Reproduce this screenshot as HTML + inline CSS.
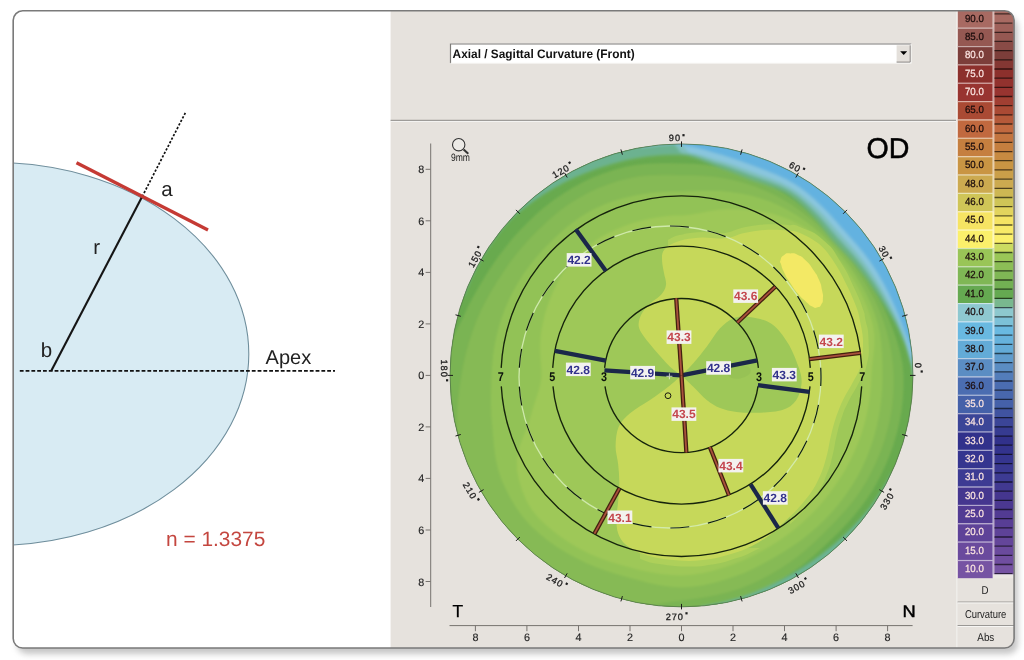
<!DOCTYPE html>
<html><head><meta charset="utf-8"><title>Axial / Sagittal Curvature</title>
<style>
html,body{margin:0;padding:0;background:#fff;}
body{width:1024px;height:660px;overflow:hidden;font-family:"Liberation Sans",sans-serif;}
svg{display:block;position:absolute;left:0;top:0;opacity:0.999;}
text{font-family:"Liberation Sans",sans-serif;text-rendering:geometricPrecision;}
.b{font-weight:bold;}
</style></head><body>
<svg width="1024" height="660" viewBox="0 0 1024 660">
<defs>
<clipPath id="frame"><rect x="13.2" y="10.8" width="1000.9" height="637.2" rx="9.5" ry="9.5"/></clipPath>
<clipPath id="mapclip"><circle cx="681.5" cy="375.4" r="231.5"/></clipPath>
<filter id="sh" x="-5%" y="-5%" width="112%" height="112%"><feGaussianBlur stdDeviation="3.2"/></filter>
<filter id="bl2"><feGaussianBlur stdDeviation="1.2"/></filter>
<filter id="bl3"><feGaussianBlur stdDeviation="1.5"/></filter>
</defs>

<rect x="17" y="17" width="1001" height="637" rx="10" fill="#8c8c8c" opacity="0.5" filter="url(#sh)"/>
<rect x="13.2" y="10.8" width="1000.9" height="637.2" rx="9.5" fill="#fff"/>
<g clip-path="url(#frame)">
<ellipse cx="-5.8" cy="354" rx="254.6" ry="191.5" fill="#d8ebf3" stroke="#6f8e9c" stroke-width="1.1"/>
<line x1="19.8" y1="370.9" x2="335" y2="370.9" stroke="#111" stroke-width="1.7" stroke-dasharray="3.8 2"/>
<line x1="51.3" y1="370.7" x2="142.2" y2="196.6" stroke="#151515" stroke-width="2.1"/>
<line x1="142.2" y1="196.6" x2="185.3" y2="112.9" stroke="#111" stroke-width="1.7" stroke-dasharray="2.3 1.7"/>
<line x1="76.5" y1="162.7" x2="208" y2="230.1" stroke="#c53a34" stroke-width="3.4"/>
<text x="161.3" y="196" font-size="20.5" fill="#222">a</text>
<text x="93.3" y="254.4" font-size="20.5" fill="#222">r</text>
<text x="40.8" y="357.3" font-size="20.5" fill="#222">b</text>
<text x="265.6" y="364" font-size="20" fill="#222">Apex</text>
<text x="166" y="546.3" font-size="20.9" fill="#c4463f">n = 1.3375</text>
<rect x="390.6" y="10" width="640" height="640" fill="#e6e2dd"/>
<rect x="390.6" y="119.8" width="565.5" height="1.1" fill="#8c8a87"/>
<rect x="390.6" y="120.9" width="565.5" height="1" fill="#f6f5f3"/>
<rect x="450" y="43.5" width="461.2" height="19.8" fill="#fff"/>
<path d="M450.5,63.3V44H911.2" fill="none" stroke="#7d7b78" stroke-width="1.2"/>
<path d="M450.5,63.3H911.2V44" fill="none" stroke="#f4f3f1" stroke-width="1"/>
<rect x="896.6" y="45.3" width="13.6" height="16.8" fill="#e4e0db"/>
<path d="M896.6,62.1H910.2V45.3" fill="none" stroke="#8a8784" stroke-width="1"/>
<path d="M900.2,51.2h7l-3.5,3.8z" fill="#000"/>
<text class="b" x="452.6" y="57.7" font-size="12.3" fill="#111" textLength="182" lengthAdjust="spacingAndGlyphs">Axial / Sagittal Curvature (Front)</text>
<g clip-path="url(#mapclip)">
<circle cx="681.5" cy="375.4" r="232.5" fill="#79b451"/>
<circle cx="681.5" cy="375.4" r="233.5" fill="#68aa4e"/>
<g filter="url(#bl2)">
<path d="M903.5,375.4L902.5,363.8L900.2,352.4L897,341.3L893.3,330.4L889.2,319.8L884.7,309.4L879.7,299.3L874.3,289.6L868.5,280.1L862.5,270.9L856.1,262L849.3,253.5L842.1,245.3L834.7,237.4L827.2,229.7L819.5,222.2L811.6,214.7L803.5,207.5L795,200.7L786,194.4L776.7,188.6L767.1,183.1L757.2,178.2L746.9,174L736.4,170.6L725.6,168L714.7,166L703.7,164.6L692.6,163.7L681.5,163.4L670.4,163.3L659.2,163.3L648,163.7L636.7,164.7L625.6,166.8L614.7,169.7L603.9,173.2L593.3,177.3L583,182.1L573,187.5L563.3,193.4L554,199.8L544.9,206.8L536.3,214.1L528.1,222L520.2,230.1L512.5,238.6L505.3,247.4L498.3,256.5L491.8,265.9L485.6,275.6L479.6,285.5L473.8,295.7L468.3,306.1L463.2,316.9L457.8,327.9L452.1,339.1L446.8,350.7L443,362.9L441.5,375.4L441.8,388L442.8,400.5L444.5,412.9L446.7,425.3L449.7,437.5L453.2,449.6L457.4,461.4L462.2,473L467.7,484.4L473.7,495.4L480.2,506.1L487.3,516.5L495,526.4L503.1,536L511.8,545.1L520.9,553.8L530.5,561.9L540.4,569.6L550.8,576.7L561.5,583.2L572.5,589.2L583.9,594.7L595.5,599.5L607.3,603.7L619.4,607.2L631.6,610.2L644,612.4L656.4,614.1L668.9,615.1L681.5,615.4L694,614.7L706.4,612.6L718.6,609.6L730.5,605.8L742.1,601.4L753.3,596.5L764.2,590.8L774.6,584.5L784.7,577.9L794.5,571.1L804,564L813.1,556.5L821.8,548.6L830.2,540.6L838.5,532.4L846.6,524L854.3,515.3L861.6,506.3L868.4,496.8L874.6,486.9L880.2,476.6L885.2,466.1L889.7,455.3L893.6,444.3L896.9,433.1L899.6,421.8L901.6,410.3L902.9,398.7L903.5,387Z" fill="#7ab452"/>
<path d="M893.5,375.4L892.8,364.3L891.4,353.3L889.3,342.5L886.6,331.8L883.4,321.3L879.5,311.1L875.1,301.1L870.1,291.4L864.7,282L859,272.9L853,264L846.5,255.5L839.6,247.4L832.4,239.5L825,231.9L817.3,224.5L809.3,217.6L800.8,211.2L792.1,205.1L783,199.6L773.6,194.6L764,190.2L754.1,186.3L744,183L733.8,180.3L723.4,178.2L713,176.8L702.5,175.9L692,175.5L681.5,175.4L671,175.3L660.5,175.2L649.8,175.5L639.2,176.5L628.7,178.4L618.4,181.1L608.2,184.4L598.2,188.3L588.5,192.8L579,197.9L569.9,203.6L561.2,209.8L552.9,216.6L544.9,223.7L537.3,231.2L529.8,238.8L522.6,246.8L515.8,255L509.2,263.5L503.1,272.4L497.3,281.5L491.6,290.8L486.2,300.4L481.2,310.3L476.7,320.5L472.8,331L469.3,341.8L466.2,352.8L463.6,364L461.5,375.4L459.7,387L458.2,398.9L457.2,410.9L456.9,423.1L457.4,435.4L458.5,447.8L460.2,460.4L462.7,472.8L466.5,485L471.9,496.4L478.5,507.2L485.7,517.6L493.4,527.7L501.7,537.3L510.4,546.5L519.6,555.2L529.2,563.5L539.3,571.2L549.7,578.4L560.5,585L571.7,590.8L583.4,595.7L595.4,599.7L607.6,602.9L619.9,605.3L632.4,606.3L645,605.7L657.5,604L669.6,602L681.5,600.4L693.2,599L704.8,597.3L716.3,595.1L727.6,592.3L738.7,588.9L749.5,584.7L760,579.9L770.2,574.5L780,568.7L789.5,562.5L798.6,555.7L807.3,548.5L815.5,540.9L823.5,533.2L831.4,525.3L839.1,517.3L846.5,509L853.5,500.4L860,491.4L866,481.9L871.3,472.1L876.1,462L880.4,451.7L884.1,441.2L887.2,430.5L889.8,419.7L891.7,408.7L892.9,397.6L893.5,386.5Z" fill="#86ba54"/>
<path d="M882.5,375.4L882.4,364.9L882.1,354.3L881.3,343.8L879.9,333.2L877.6,322.9L874.4,312.7L870.5,302.8L866,293.2L861,283.9L855.6,274.9L849.7,266.1L843.5,257.7L836.8,249.6L829.7,241.9L822.2,234.7L814.3,227.9L806.1,221.5L797.5,215.7L788.7,210.4L779.5,205.7L770.1,201.6L760.4,198.3L750.5,195.6L740.6,193.5L730.7,191.9L720.7,190.9L710.8,190.7L700.9,190.9L691.2,191.2L681.5,191.4L671.9,191.5L662.2,192L652.6,192.8L643,194L633.4,195.7L623.8,197.9L614.4,200.7L605.2,204L596.2,208L587.5,212.6L579.2,217.8L571.2,223.6L563.6,229.8L556.3,236.4L549.3,243.2L542.5,250.2L536,257.6L529.8,265.2L524,273.1L518.7,281.4L513.8,290L509.4,298.8L505.4,307.8L501.9,317.1L498.9,326.5L496.5,336.1L494.5,345.8L493,355.6L492.1,365.5L491.5,375.4L491.2,385.4L491,395.4L491,405.6L491.3,415.8L492.2,426.1L493.1,436.6L494.1,447.3L495.6,458.2L497.9,469L501.4,479.4L505.9,489.5L511,499.3L516.8,508.8L523.4,517.7L530.9,526L539.1,533.6L547.8,540.5L556.9,546.9L566.3,552.7L576,558.1L585.9,563L596.1,567.3L606.4,571L616.9,574.3L627.4,577.3L638,580.1L648.6,582.9L659.5,585.2L670.4,586.8L681.5,587.4L692.6,586.8L703.6,585.2L714.3,582.8L724.9,579.8L735.3,576.3L745.5,572.4L755.4,567.8L764.9,562.8L774.3,557.5L783.5,552.1L792.5,546.3L801.2,540.2L809.6,533.6L817.7,526.6L825.3,519.2L832.6,511.5L839.5,503.3L845.9,494.8L851.8,486L857.3,476.9L862.2,467.5L866.6,457.8L870.4,447.9L873.7,437.9L876.5,427.6L878.7,417.3L880.4,406.9L881.6,396.4L882.3,385.9Z" fill="#92c256"/>
<path d="M871.5,375.4L872.2,365.4L873.4,355.2L874.4,344.9L874.4,334.4L872.8,324.2L869.8,314.2L866.1,304.5L862,295.1L857.3,285.8L852.1,276.9L846.5,268.3L840.4,259.9L833.9,252L826.8,244.5L819.4,237.5L811.3,231.2L802.6,225.9L793.4,221.3L784,217.5L774.5,214.3L764.8,211.9L755,210.3L745.2,209.5L735.5,209.2L726,209.3L716.7,210L707.5,211.5L698.5,213.3L689.9,214.8L681.5,215.4L673.1,215.6L664.8,216.3L656.5,217.4L648.2,218.9L640.1,220.9L632.1,223.2L624.2,226L616.4,229.2L608.9,232.8L601.5,236.8L594.4,241.3L587.7,246.3L581.4,251.7L575.4,257.5L569.8,263.7L564.7,270.2L560.2,277.2L556.4,284.5L552.9,291.9L549.9,299.4L547.1,306.9L544.8,314.6L543,322.2L541.5,329.9L540.5,337.6L540.1,345.3L540.2,353L540.7,360.6L541.3,368.1L541.5,375.4L540.7,382.8L538.7,390.4L536.1,398.4L533.3,406.9L530.8,415.8L527.7,425.4L523.4,436.1L519.3,447.6L516.8,459.3L517,470.4L519.2,480.8L522.3,491.1L526.5,500.9L531.9,510.1L538.7,518.2L546.4,525.5L554.5,532.2L563,538.5L571.9,544.2L581,549.5L590.4,554.2L600.1,558.2L610,561.7L620,564.8L630,567.6L640.1,570.2L650.3,572.3L660.6,574L671,575L681.5,575.4L692,574.8L702.3,573.3L712.5,570.9L722.4,568L732.2,564.7L741.8,561L751.1,556.7L760.1,552L768.9,547L777.5,541.7L785.8,536L793.8,530L801.5,523.6L808.8,516.8L815.8,509.7L822.4,502.3L828.7,494.6L834.5,486.6L840,478.4L845.2,469.9L849.9,461.2L854.2,452.3L858,443.2L861.4,433.9L864.3,424.4L866.7,414.8L868.6,405L870.1,395.2L871,385.3Z" fill="#9ec858"/>
</g>
<clipPath id="hc"><path d="M668,140H930V620H640V548H790V300H668Z"/></clipPath>
<path d="M681.5,375.4C677.1,379.2 678.8,378.5 668.3,386.7C657.8,394.9 662.8,391.1 650,400C637.2,408.9 640.5,404.3 630,413.3C619.5,422.3 623.4,416 618.6,427C613.8,438 615.7,433.9 615.6,446.4C615.5,458.9 617,452.4 618.2,464.5C619.4,476.6 619.3,470.6 619.3,482.7C619.3,494.8 619.2,488.8 618.2,500.9C617.2,513 616.4,508.2 616.4,519.1C616.4,530 615.2,525.1 618.2,533.6C621.2,542.1 617.6,537.8 625.5,544.5C633.4,551.2 629.1,548.7 641.8,553.6C654.5,558.5 647.8,556.7 663.6,559.1C679.4,561.5 673.3,560.9 689.1,560.9C704.9,560.9 696.4,561.5 710.9,559.1C725.4,556.7 719.4,557.8 732.7,553.6C746,549.4 738.8,552.4 750.9,546.4C763,540.4 758.2,543.4 769.1,535.5C780,527.6 773.9,531.8 783.6,522.7C793.3,513.6 788.5,519.1 798.2,508.2C807.9,497.3 804.8,502.1 812.7,490C820.6,477.9 816.9,483.9 821.8,471.8C826.7,459.7 824.2,465.7 827.3,453.6C830.4,441.5 828.1,447.6 831,435.5C833.9,423.4 832,429.1 836,417.3C840,405.5 837.3,411.8 843,400C848.7,388.2 847,393.7 853,382C859,370.3 857.7,379 861,365C864.3,351 863.3,354.7 863,340C862.7,325.3 862,331.3 860,320.9C858,310.5 861,319.9 857,308.8C853,297.7 855,302.3 847.9,287.6C840.8,272.9 844.9,278.9 835.8,264.8C826.7,250.7 832.5,255.8 820.6,245.2C808.7,234.6 811.1,237.9 800,233C788.9,228.1 796.1,231.6 787.2,230.5C778.3,229.4 783.3,229.6 773.4,229.7C763.5,229.8 768.1,229.4 757.6,230.7C747.1,232 751.1,231.3 741.9,233.6C732.7,235.9 737.9,235.9 730,237.6C722.1,239.3 727.4,238.6 718.2,238.6C709,238.6 713.7,237.3 702.5,237.6C691.3,237.9 695.2,237.3 684.7,239.6C674.2,241.9 678.1,240.6 670.9,244.5C663.7,248.4 666,245.8 663.1,251.4C660.2,257 661.8,254 662.1,261.2C662.4,268.4 662.7,265.2 664,273.1C665.3,281 667,277.7 666,284.9C665,292.1 666,288.8 661.1,294.7C656.2,300.6 657.4,296.7 651.2,302.6C645,308.5 646.6,305.4 642.4,312.5C638.2,319.6 638.8,317.1 638.6,324C638.4,330.9 636.8,325.2 641.7,333.3C646.6,341.4 643.9,337.2 653.3,348.3C662.7,359.4 660.6,357.7 670,366.7C679.4,375.7 677.7,372.5 681.5,375.4C685.3,378.3 685.9,371.6 681.5,375.4Z" fill="none" stroke="#aed05a" stroke-width="11" stroke-linejoin="round" clip-path="url(#hc)"/>
<path d="M681.5,375.4C679.3,377.3 673.5,382.6 668.3,386.7C663,390.8 656.4,395.6 650,400C643.6,404.4 635.2,408.8 630,413.3C624.8,417.8 621,421.5 618.6,427C616.2,432.5 615.7,440.1 615.6,446.4C615.5,452.6 617.6,458.4 618.2,464.5C618.8,470.6 619.3,476.6 619.3,482.7C619.3,488.8 618.7,494.8 618.2,500.9C617.7,507 616.4,513.6 616.4,519.1C616.4,524.6 616.7,529.4 618.2,533.6C619.7,537.8 621.6,541.2 625.5,544.5C629.4,547.8 635.4,551.2 641.8,553.6C648.1,556 655.7,557.9 663.6,559.1C671.5,560.3 681.2,560.9 689.1,560.9C697,560.9 703.6,560.3 710.9,559.1C718.2,557.9 726,555.7 732.7,553.6C739.4,551.5 744.8,549.4 750.9,546.4C757,543.4 763.6,539.5 769.1,535.5C774.6,531.5 778.8,527.2 783.6,522.7C788.5,518.2 793.4,513.6 798.2,508.2C803.1,502.8 808.8,496.1 812.7,490C816.6,483.9 819.4,477.9 821.8,471.8C824.2,465.7 825.8,459.7 827.3,453.6C828.8,447.6 829.5,441.6 831,435.5C832.5,429.4 834,423.2 836,417.3C838,411.4 840.2,405.9 843,400C845.8,394.1 850,387.8 853,382C856,376.2 859.3,372 861,365C862.7,358 863.2,347.4 863,340C862.8,332.6 861,326.1 860,320.9C859,315.7 859,314.4 857,308.8C855,303.2 851.4,294.9 847.9,287.6C844.4,280.3 840.3,271.9 835.8,264.8C831.2,257.7 826.6,250.5 820.6,245.2C814.6,239.9 805.6,235.4 800,233C794.4,230.6 791.6,231.1 787.2,230.5C782.8,229.9 778.3,229.7 773.4,229.7C768.5,229.7 762.9,230 757.6,230.7C752.4,231.3 746.5,232.4 741.9,233.6C737.3,234.8 734,236.8 730,237.6C726,238.4 722.8,238.6 718.2,238.6C713.6,238.6 708.1,237.4 702.5,237.6C696.9,237.8 690,238.4 684.7,239.6C679.4,240.8 674.5,242.5 670.9,244.5C667.3,246.5 664.6,248.6 663.1,251.4C661.6,254.2 662,257.6 662.1,261.2C662.2,264.8 663.4,269.2 664,273.1C664.6,277.1 666.5,281.3 666,284.9C665.5,288.5 663.6,291.8 661.1,294.7C658.6,297.6 654.3,299.6 651.2,302.6C648.1,305.6 644.5,308.9 642.4,312.5C640.3,316.1 638.7,320.5 638.6,324C638.5,327.5 639.2,329.2 641.7,333.3C644.2,337.4 648.6,342.7 653.3,348.3C658,353.9 665.3,362.2 670,366.7C674.7,371.2 679.6,373.9 681.5,375.4Z" fill="#c6d85a"/>
<path d="M681.5,375.4C683.5,373.4 689.1,368.1 693.3,363.3C697.5,358.5 702.2,352.5 706.7,346.7C711.2,340.9 715.6,333 720,328.3C724.4,323.6 728.2,320.3 733.1,318.4C738,316.5 743.1,316.1 749.5,317C755.9,317.9 765,319.5 771.4,323.8C777.8,328.1 783.2,335.7 787.8,343C792.4,350.3 796.5,360.8 798.8,367.6C801.1,374.4 802,378.5 801.5,384C801,389.5 799.2,396.1 796,400.4C792.8,404.7 788.8,407.9 782.4,410C776,412.1 765.3,412.4 757.7,412.7C750.1,413 743,412.8 736.7,412C730.4,411.2 725,410 720,408C715,406 711.2,403.6 706.7,400C702.2,396.4 697.5,390.8 693.3,386.7C689.1,382.6 683.5,377.3 681.5,375.4Z" fill="#9ec858"/>
<ellipse cx="739" cy="372" rx="12" ry="6.5" fill="#97c255" transform="rotate(-8 739 372)"/>
<path d="M780.5,260.3C781.5,257 780.9,257.3 784.2,255C787.5,252.7 785.7,253.5 790.3,253.5C794.9,253.5 792.8,252.7 797.9,255C803,257.3 800.5,255.5 805.5,260.3C810.5,265.1 808.5,262.8 813,269.4C817.5,276 816.1,272.9 819.1,280C822.1,287.1 820.8,284.5 822.1,290.6C823.4,296.7 823.1,293.7 822.9,298.2C822.7,302.7 823.2,301.2 821.4,304.2C819.6,307.2 820.6,306.5 817.6,307.3C814.6,308.1 816.3,308.5 812.3,306.5C808.3,304.5 810.3,305.5 805.5,301.2C800.7,296.9 803,299.7 797.9,293.6C792.8,287.5 794.9,290.1 790.3,283C785.7,275.9 787.2,278.5 784.2,272.4C781.2,266.3 782.4,268.8 781.2,264.8C780,260.8 779.5,263.6 780.5,260.3Z" fill="#f3e965"/>
<g filter="url(#bl3)">
<path d="M913,375.4L912.7,371.3L911.9,367.3L910.8,363.3L909.5,359.4L908.3,355.4L907,351.5L905.7,347.7L904.3,343.9L902.7,340.1L901.2,336.4L899.5,332.8L897.8,329.1L896,325.6L894.1,322L892.2,318.6L890.1,315.2L888.1,311.8L886,308.5L884,305.2L881.9,301.9L879.9,298.7L877.9,295.5L875.8,292.4L873.6,289.2L871.5,286.2L869.3,283.1L867.2,280.1L865,277.1L862.7,274.2L860.5,271.3L858.2,268.4L855.9,265.6L853.5,262.8L851,260.1L848.6,257.5L846.1,254.8L843.6,252.2L841.1,249.6L838.7,247L836.2,244.4L833.8,241.8L831.4,239.2L829.1,236.4L826.9,233.7L824.7,230.8L822.5,227.9L820.2,225.1L817.9,222.3L815.5,219.5L813.1,216.8L810.5,214.2L808,211.6L805.4,209L802.8,206.4L800,203.9L797.3,201.5L794.4,199.2L791.4,197L788.3,194.9L785.2,193.1L781.9,191.4L778.5,189.9L775.1,188.5L771.7,187.2L768.2,186L764.7,184.8L761.2,183.7L757.7,182.6L754.3,181.4L750.9,180.2L747.5,178.9L744.1,177.5L740.7,176.2L737.3,174.8L733.8,173.4L730.4,172.1L726.9,170.7L723.4,169.4L719.9,168.2L716.4,167L712.8,165.6L709.3,164.1L705.7,162.6L702,161L698.4,159.6L694.6,158.2L690.9,157L687,156.1L683.2,155.6L679.3,155.3L675.5,155.2L671.6,155.2L667.7,155.3L663.8,155.4L660,155.7L656.1,156L652.2,156.4L648.4,156.8L644.5,157.3L640.7,157.9L636.8,158.5L633,159.2L629.2,160L625.4,160.8L621.6,161.7L617.8,162.7L614,163.7L610.3,164.8L606.6,165.9L602.8,167.1L599.1,168.3L595.4,169.6L591.7,170.9L588,172.3L584.3,173.7L580.7,175.2L577,176.7L573.4,178.4L569.8,180L566.3,181.8L562.7,183.6L559.2,185.4L555.7,187.3L552.3,189.3L548.8,191.3L545.4,193.4L542,195.6L538.7,197.8L535.4,200.1L532.1,202.4L528.8,204.8L525.6,207.2L522.3,209.6L519.1,212.2L516,214.8L513,217.5L510,220.3L507.2,223.2L504.5,226.2L501.9,229.3L499.4,232.5L496.9,235.7L494.5,239L492.1,242.3L489.8,245.7L487.5,249L485.3,252.5L483.2,255.9L481.1,259.4L479.1,263L477.2,266.5L475.3,270.1L473.5,273.8L471.7,277.4L470.1,281.1L468.4,284.9L466.9,288.6L465.4,292.4L464,296.2L461.1,295.2L462.6,291.3L464.1,287.5L465.7,283.7L467.3,279.9L469,276.2L470.8,272.5L472.6,268.8L474.5,265.1L476.5,261.5L478.5,257.9L480.6,254.4L482.8,250.9L485,247.4L487.3,244L489.6,240.6L492,237.2L494.5,233.9L497,230.7L499.6,227.4L502.2,224.3L504.9,221.1L507.6,218.1L510.4,215L513.2,212.1L516.1,209.1L519.1,206.3L522.1,203.4L525.1,200.7L528.2,197.9L531.4,195.3L534.5,192.7L537.8,190.1L541.1,187.6L544.4,185.2L547.7,182.8L551.1,180.5L554.6,178.2L558.1,176L561.6,173.9L565.1,171.8L568.7,169.8L572.4,167.8L576,166L579.7,164.1L583.4,162.4L587.2,160.7L591,159.1L594.8,157.5L598.6,156L602.5,154.6L606.4,153.3L610.3,152L614.2,150.8L618.2,149.6L622.2,148.5L626.2,147.5L630.2,146.6L634.2,145.7L638.2,144.9L642.3,144.2L646.4,143.5L650.4,143L654.5,142.5L658.6,142L662.7,141.7L666.8,141.4L670.9,141.1L675.1,141L679.2,140.9L683.3,140.9L687.4,141L691.5,141.1L695.6,141.3L699.8,141.6L703.9,142L708,142.4L712,142.9L716.1,143.5L720.2,144.1L724.2,144.8L728.3,145.6L732.3,146.5L736.3,147.4L740.3,148.4L744.3,149.5L748.3,150.6L752.2,151.8L756.1,153.1L760,154.4L763.9,155.8L767.7,157.3L771.5,158.9L775.3,160.5L779.1,162.2L782.8,163.9L786.5,165.7L790.2,167.6L793.8,169.5L797.4,171.5L801,173.6L804.5,175.7L808,177.9L811.4,180.2L814.8,182.5L818.2,184.9L821.5,187.3L824.8,189.8L828.1,192.3L831.2,194.9L834.4,197.6L837.5,200.3L840.5,203.1L843.5,205.9L846.5,208.8L849.4,211.7L852.2,214.7L855,217.7L857.8,220.8L860.5,223.9L863.1,227L865.7,230.3L868.2,233.5L870.7,236.8L873.1,240.2L875.4,243.5L877.7,247L879.9,250.4L882.1,253.9L884.2,257.5L886.2,261.1L888.2,264.7L890.1,268.3L892,272L893.8,275.7L895.5,279.5L897.1,283.2L898.7,287L900.2,290.9L901.7,294.7L903.1,298.6L904.4,302.5L905.6,306.4L906.8,310.4L907.9,314.3L908.9,318.3L909.9,322.3L910.8,326.3L911.6,330.4L912.4,334.4L913.1,338.5L913.7,342.6L914.2,346.6L914.7,350.7L915.1,354.8L915.4,358.9L915.7,363.1L915.9,367.2L916,371.3L916,375.4Z" fill="#6eb27c"/>
<path d="M913,375.4L912.7,371.3L912,367.3L911,363.3L909.9,359.3L908.7,355.4L907.6,351.5L906.4,347.6L905.1,343.8L903.7,340L902.2,336.2L900.7,332.5L899.1,328.9L897.4,325.2L895.6,321.7L893.8,318.2L891.9,314.7L889.9,311.3L888,307.9L886,304.5L884.1,301.2L882.1,297.9L880.1,294.6L878.1,291.4L876,288.2L873.9,285L871.8,281.9L869.7,278.8L867.5,275.7L865.3,272.7L863.1,269.7L860.9,266.8L858.6,263.9L856.2,261.1L853.8,258.3L851.3,255.5L848.9,252.8L846.4,250.1L843.9,247.4L841.4,244.7L839,242.1L836.5,239.4L834.1,236.7L831.7,234L829.4,231.2L827.1,228.3L824.8,225.5L822.5,222.6L820.1,219.8L817.7,217.1L815.1,214.4L812.5,211.8L809.9,209.2L807.2,206.6L804.5,204L801.7,201.5L798.8,199.1L795.9,196.8L792.9,194.6L789.7,192.6L786.5,190.7L783.2,189L779.8,187.4L776.4,186L772.9,184.6L769.4,183.4L765.9,182.1L762.4,181L758.8,179.8L755.4,178.6L751.9,177.3L748.4,176L745,174.7L741.5,173.3L738,172L734.6,170.7L731.1,169.3L727.5,168.1L724,166.8L720.4,165.6L716.8,164.5L713.2,163.2L709.6,161.8L705.9,160.4L702.2,159L698.5,157.7L694.7,156.5L690.9,155.4L687.1,154.6L683.2,154.1L679.3,153.9L675.4,153.8L671.5,153.8L667.6,153.9L663.7,154.1L659.8,154.3L655.9,154.7L652.1,155L648.2,155.5L644.3,156L640.4,156.6L636.6,157.3L632.7,158L628.9,158.8L625.1,159.6L621.3,160.6L617.5,161.5L613.7,162.6L609.9,163.7L606.2,164.9L602.4,166.1L598.7,167.3L595,168.6L591.3,170L587.6,171.4L583.9,172.9L580.3,174.4L576.6,176L573,177.6L569.4,179.3L565.9,181.1L562.4,182.9L558.8,184.8L555.4,186.8L551.9,188.8L548.5,190.9L545.1,193L541.7,195.2L538.4,197.4L535.1,199.8L531.8,202.1L528.6,204.5L525.4,207L522.2,209.5L519,212L515.9,214.7L512.9,217.4L510,220.2L507.2,223.2L504.5,226.2L501.9,229.3L499.4,232.5L496.9,235.7L494.5,239L492.1,242.3L489.8,245.7L487.5,249L485.3,252.5L483.2,255.9L481.1,259.4L479.1,263L477.2,266.5L475.3,270.1L473.5,273.8L471.7,277.4L470.1,281.1L468.4,284.9L466.9,288.6L465.4,292.4L464,296.2L461.1,295.2L462.6,291.3L464.1,287.5L465.7,283.7L467.3,279.9L469,276.2L470.8,272.5L472.6,268.8L474.5,265.1L476.5,261.5L478.5,257.9L480.6,254.4L482.8,250.9L485,247.4L487.3,244L489.6,240.6L492,237.2L494.5,233.9L497,230.7L499.6,227.4L502.2,224.3L504.9,221.1L507.6,218.1L510.4,215L513.2,212.1L516.1,209.1L519.1,206.3L522.1,203.4L525.1,200.7L528.2,197.9L531.4,195.3L534.5,192.7L537.8,190.1L541.1,187.6L544.4,185.2L547.7,182.8L551.1,180.5L554.6,178.2L558.1,176L561.6,173.9L565.1,171.8L568.7,169.8L572.4,167.8L576,166L579.7,164.1L583.4,162.4L587.2,160.7L591,159.1L594.8,157.5L598.6,156L602.5,154.6L606.4,153.3L610.3,152L614.2,150.8L618.2,149.6L622.2,148.5L626.2,147.5L630.2,146.6L634.2,145.7L638.2,144.9L642.3,144.2L646.4,143.5L650.4,143L654.5,142.5L658.6,142L662.7,141.7L666.8,141.4L670.9,141.1L675.1,141L679.2,140.9L683.3,140.9L687.4,141L691.5,141.1L695.6,141.3L699.8,141.6L703.9,142L708,142.4L712,142.9L716.1,143.5L720.2,144.1L724.2,144.8L728.3,145.6L732.3,146.5L736.3,147.4L740.3,148.4L744.3,149.5L748.3,150.6L752.2,151.8L756.1,153.1L760,154.4L763.9,155.8L767.7,157.3L771.5,158.9L775.3,160.5L779.1,162.2L782.8,163.9L786.5,165.7L790.2,167.6L793.8,169.5L797.4,171.5L801,173.6L804.5,175.7L808,177.9L811.4,180.2L814.8,182.5L818.2,184.9L821.5,187.3L824.8,189.8L828.1,192.3L831.2,194.9L834.4,197.6L837.5,200.3L840.5,203.1L843.5,205.9L846.5,208.8L849.4,211.7L852.2,214.7L855,217.7L857.8,220.8L860.5,223.9L863.1,227L865.7,230.3L868.2,233.5L870.7,236.8L873.1,240.2L875.4,243.5L877.7,247L879.9,250.4L882.1,253.9L884.2,257.5L886.2,261.1L888.2,264.7L890.1,268.3L892,272L893.8,275.7L895.5,279.5L897.1,283.2L898.7,287L900.2,290.9L901.7,294.7L903.1,298.6L904.4,302.5L905.6,306.4L906.8,310.4L907.9,314.3L908.9,318.3L909.9,322.3L910.8,326.3L911.6,330.4L912.4,334.4L913.1,338.5L913.7,342.6L914.2,346.6L914.7,350.7L915.1,354.8L915.4,358.9L915.7,363.1L915.9,367.2L916,371.3L916,375.4Z" fill="#6cb290"/>
<path d="M913,375.4L913,372.9L912.9,370.3L912.9,367.8L912.5,365.3L911.5,362.8L910.4,360.3L909.7,357.8L909,355.4L908.4,352.9L907.7,350.5L907,348L906.2,345.6L905.4,343.2L904.6,340.8L903.7,338.5L902.8,336.1L901.9,333.8L901,331.5L900,329.1L899,326.9L898,324.6L897,322.3L895.9,320.1L894.8,317.9L893.6,315.7L892.5,313.5L891.3,311.3L890.1,309.2L888.9,307L887.8,304.9L886.6,302.8L885.4,300.7L884.2,298.6L883,296.5L881.8,294.4L880.5,292.4L879.3,290.3L878,288.3L876.8,286.3L875.5,284.3L874.2,282.3L872.9,280.3L871.5,278.4L870.2,276.4L868.9,274.5L867.5,272.6L866.2,270.7L864.8,268.8L863.4,266.9L862,265L860.5,263.2L859.1,261.4L857.6,259.6L856.1,257.8L854.6,256L853.1,254.3L851.5,252.6L850,250.8L848.4,249.1L846.9,247.4L845.3,245.7L843.8,244L842.2,242.3L840.7,240.6L839.2,238.9L837.6,237.2L836.1,235.5L834.6,233.8L833.1,232.1L831.6,230.3L830.1,228.6L828.7,226.8L827.2,225L825.7,223.2L824.2,221.4L822.7,219.7L821.2,217.9L819.6,216.2L818,214.5L816.4,212.9L814.7,211.2L813.1,209.6L811.4,208L809.7,206.3L808,204.7L806.2,203.2L804.5,201.6L802.7,200.1L800.9,198.6L799.1,197.1L797.2,195.6L795.3,194.3L793.4,192.9L791.4,191.6L789.4,190.4L787.4,189.2L785.3,188.1L783.2,187.1L781,186.1L778.9,185.1L776.7,184.2L774.5,183.4L772.3,182.5L770.1,181.7L767.9,180.9L765.7,180.1L763.5,179.4L761.3,178.6L759.1,177.8L756.9,177.1L754.7,176.3L752.5,175.5L750.3,174.7L748.2,173.9L746,173.1L743.8,172.2L741.6,171.4L739.4,170.6L737.2,169.8L735,168.9L732.8,168.1L730.6,167.3L728.3,166.5L726.1,165.8L723.9,165.1L721.6,164.3L719.3,163.6L717,162.9L714.8,162.2L712.5,161.4L710.2,160.6L707.9,159.8L705.6,158.9L703.3,158.1L700.9,157.3L698.6,156.5L696.2,155.8L693.8,155.1L691.4,154.5L689,154L686.6,153.7L684.2,153.5L681.7,153.1L679.3,151.1L676.7,147.1L674.1,144.2L671.6,144.1L669.1,144.2L666.5,144.4L664,144.6L661.5,144.8L658.9,145L656.4,145.3L653.9,145.6L651.3,145.9L648.8,146.2L646.3,146.6L643.8,147L641.3,147.4L640.8,144.5L643.3,144L645.9,143.6L648.4,143.2L651,142.9L653.5,142.6L656.1,142.3L658.6,142L661.2,141.8L663.8,141.6L666.3,141.4L668.9,141.2L671.5,141.1L674,141L676.6,141L679.2,140.9L681.8,140.9L684.3,140.9L686.9,141L689.5,141L692.1,141.1L694.6,141.3L697.2,141.4L699.8,141.6L702.3,141.8L704.9,142.1L707.4,142.3L710,142.6L712.6,143L715.1,143.3L717.6,143.7L720.2,144.1L722.7,144.6L725.3,145L727.8,145.5L730.3,146L732.8,146.6L735.3,147.2L737.8,147.8L740.3,148.4L742.8,149.1L745.3,149.7L747.8,150.5L750.2,151.2L752.7,152L755.1,152.8L757.6,153.6L760,154.4L762.4,155.3L764.8,156.2L767.2,157.1L769.6,158.1L772,159.1L774.4,160.1L776.7,161.1L779.1,162.2L781.4,163.3L783.7,164.4L786.1,165.5L788.4,166.7L790.6,167.8L792.9,169.1L795.2,170.3L797.4,171.5L799.6,172.8L801.9,174.1L804.1,175.5L806.2,176.8L808.4,178.2L810.6,179.6L812.7,181L814.8,182.5L817,184L819,185.5L821.1,187L823.2,188.5L825.2,190.1L827.2,191.7L829.3,193.3L831.2,194.9L833.2,196.6L835.2,198.3L837.1,200L839,201.7L840.9,203.4L842.8,205.2L844.7,207L846.5,208.8L848.3,210.6L850.1,212.4L851.9,214.3L853.7,216.2L855.4,218.1L857.1,220L858.8,221.9L860.5,223.9L862.1,225.9L863.8,227.8L865.4,229.9L867,231.9L868.5,233.9L870.1,236L871.6,238.1L873.1,240.2L874.5,242.3L876,244.4L877.4,246.5L878.8,248.7L880.2,250.9L881.6,253.1L882.9,255.3L884.2,257.5L885.5,259.7L886.7,262L888,264.2L889.2,266.5L890.4,268.8L891.5,271.1L892.6,273.4L893.8,275.7L894.8,278L895.9,280.4L896.9,282.8L897.9,285.1L898.9,287.5L899.9,289.9L900.8,292.3L901.7,294.7L902.6,297.1L903.4,299.6L904.2,302L905,304.5L905.8,306.9L906.5,309.4L907.2,311.9L907.9,314.3L908.6,316.8L909.2,319.3L909.8,321.8L910.4,324.3L910.9,326.8L911.4,329.4L911.9,331.9L912.4,334.4L912.8,337L913.2,339.5L913.6,342.1L914,344.6L914.3,347.2L914.6,349.7L914.9,352.3L915.1,354.8L915.3,357.4L915.5,360L915.6,362.5L915.8,365.1L915.9,367.7L915.9,370.3L916,372.8L916,375.4Z" fill="#80c0bc"/>
<path d="M913,375.4L913,372.9L912.9,370.3L912.9,367.8L912.5,365.2L911.7,362.8L910.8,360.3L910.1,357.8L909.6,355.3L909,352.9L908.4,350.4L907.7,348L907,345.5L906.3,343.1L905.6,340.7L904.8,338.3L904,335.9L903.2,333.5L902.3,331.2L901.4,328.9L900.5,326.5L899.6,324.2L898.6,321.9L897.6,319.6L896.6,317.4L895.5,315.1L894.4,312.9L893.4,310.7L892.2,308.5L891.1,306.3L890,304.1L888.9,302L887.8,299.8L886.6,297.7L885.5,295.5L884.3,293.4L883.1,291.3L881.9,289.2L880.7,287.1L879.5,285.1L878.2,283L877,281L875.7,278.9L874.4,276.9L873.1,274.9L871.8,272.9L870.5,271L869.1,269L867.8,267L866.4,265.1L865,263.2L863.6,261.3L862.1,259.4L860.6,257.6L859.2,255.7L857.7,253.9L856.2,252.1L854.6,250.3L853.1,248.5L851.6,246.8L850,245L848.5,243.2L846.9,241.5L845.3,239.8L843.8,238L842.2,236.3L840.7,234.5L839.1,232.8L837.5,231.1L836,229.3L834.5,227.5L833,225.8L831.4,224L829.9,222.2L828.4,220.4L826.8,218.6L825.2,216.9L823.6,215.1L822,213.4L820.3,211.8L818.7,210.1L817,208.5L815.2,206.8L813.5,205.2L811.7,203.6L810,202L808.2,200.5L806.4,198.9L804.5,197.4L802.7,195.9L800.8,194.4L798.9,193L796.9,191.6L795,190.3L793,189L790.9,187.8L788.9,186.6L786.8,185.5L784.6,184.4L782.5,183.3L780.3,182.3L778.1,181.4L775.9,180.5L773.7,179.6L771.5,178.7L769.3,177.9L767,177.1L764.8,176.3L762.6,175.5L760.3,174.7L758.1,173.9L755.9,173.1L753.7,172.3L751.4,171.5L749.2,170.7L747,169.8L744.8,169L742.5,168.2L740.3,167.4L738.1,166.6L735.8,165.8L733.6,165L731.3,164.3L729,163.5L726.7,162.8L724.4,162.1L722.1,161.5L719.8,160.8L717.5,160.1L715.2,159.4L712.9,158.7L710.5,158L708.2,157.3L705.9,156.5L703.5,155.8L701.1,155.1L698.8,154.4L696.4,153.8L693.9,153.3L691.5,152.9L689.1,152.2L686.7,150.1L684.3,147L681.8,144.9L679.2,144.4L676.7,144.1L674.1,144L671.6,144.1L669.1,144.2L666.5,144.4L664,144.6L661.5,144.8L658.9,145L656.4,145.3L653.9,145.6L651.3,145.9L648.8,146.2L646.3,146.6L643.8,147L641.3,147.4L640.8,144.5L643.3,144L645.9,143.6L648.4,143.2L651,142.9L653.5,142.6L656.1,142.3L658.6,142L661.2,141.8L663.8,141.6L666.3,141.4L668.9,141.2L671.5,141.1L674,141L676.6,141L679.2,140.9L681.8,140.9L684.3,140.9L686.9,141L689.5,141L692.1,141.1L694.6,141.3L697.2,141.4L699.8,141.6L702.3,141.8L704.9,142.1L707.4,142.3L710,142.6L712.6,143L715.1,143.3L717.6,143.7L720.2,144.1L722.7,144.6L725.3,145L727.8,145.5L730.3,146L732.8,146.6L735.3,147.2L737.8,147.8L740.3,148.4L742.8,149.1L745.3,149.7L747.8,150.5L750.2,151.2L752.7,152L755.1,152.8L757.6,153.6L760,154.4L762.4,155.3L764.8,156.2L767.2,157.1L769.6,158.1L772,159.1L774.4,160.1L776.7,161.1L779.1,162.2L781.4,163.3L783.7,164.4L786.1,165.5L788.4,166.7L790.6,167.8L792.9,169.1L795.2,170.3L797.4,171.5L799.6,172.8L801.9,174.1L804.1,175.5L806.2,176.8L808.4,178.2L810.6,179.6L812.7,181L814.8,182.5L817,184L819,185.5L821.1,187L823.2,188.5L825.2,190.1L827.2,191.7L829.3,193.3L831.2,194.9L833.2,196.6L835.2,198.3L837.1,200L839,201.7L840.9,203.4L842.8,205.2L844.7,207L846.5,208.8L848.3,210.6L850.1,212.4L851.9,214.3L853.7,216.2L855.4,218.1L857.1,220L858.8,221.9L860.5,223.9L862.1,225.9L863.8,227.8L865.4,229.9L867,231.9L868.5,233.9L870.1,236L871.6,238.1L873.1,240.2L874.5,242.3L876,244.4L877.4,246.5L878.8,248.7L880.2,250.9L881.6,253.1L882.9,255.3L884.2,257.5L885.5,259.7L886.7,262L888,264.2L889.2,266.5L890.4,268.8L891.5,271.1L892.6,273.4L893.8,275.7L894.8,278L895.9,280.4L896.9,282.8L897.9,285.1L898.9,287.5L899.9,289.9L900.8,292.3L901.7,294.7L902.6,297.1L903.4,299.6L904.2,302L905,304.5L905.8,306.9L906.5,309.4L907.2,311.9L907.9,314.3L908.6,316.8L909.2,319.3L909.8,321.8L910.4,324.3L910.9,326.8L911.4,329.4L911.9,331.9L912.4,334.4L912.8,337L913.2,339.5L913.6,342.1L914,344.6L914.3,347.2L914.6,349.7L914.9,352.3L915.1,354.8L915.3,357.4L915.5,360L915.6,362.5L915.8,365.1L915.9,367.7L915.9,370.3L916,372.8L916,375.4Z" fill="#8ac6de"/>
<path d="M912.4,359.3L912.3,357L912.1,354.7L911.8,352.5L911.3,350.3L910.8,348.1L910.2,345.9L909.5,343.7L908.7,341.5L907.9,339.4L907,337.3L906.2,335.2L905.3,333L904.5,330.9L903.7,328.8L902.9,326.7L902.1,324.6L901.3,322.6L900.5,320.5L899.7,318.4L898.9,316.4L898,314.3L897.2,312.3L896.3,310.2L895.4,308.2L894.5,306.2L893.6,304.2L892.7,302.2L891.8,300.2L890.9,298.2L889.9,296.3L889,294.3L888,292.3L887,290.4L886,288.4L885,286.5L884,284.6L883,282.7L881.9,280.8L880.9,278.9L879.8,277L878.7,275.1L877.6,273.3L876.5,271.4L875.3,269.6L874.1,267.8L873,266L871.8,264.2L870.5,262.4L869.3,260.6L868,258.9L866.7,257.2L865.4,255.5L864.1,253.8L862.8,252.1L861.4,250.4L860,248.8L858.7,247.1L857.3,245.5L855.9,243.9L854.5,242.3L853.1,240.7L851.7,239.1L850.2,237.5L848.8,235.9L847.4,234.3L846,232.7L844.5,231.1L843.1,229.6L841.7,228L840.3,226.4L838.9,224.8L837.5,223.2L836.1,221.6L834.7,220L833.2,218.4L831.8,216.8L830.4,215.2L828.9,213.6L827.4,212.1L825.9,210.5L824.4,209L822.9,207.5L821.3,206L819.8,204.5L818.2,203L816.6,201.6L815.1,200.1L813.5,198.6L811.9,197.2L810.2,195.7L808.6,194.3L806.9,192.9L805.2,191.6L803.5,190.2L801.8,188.9L800,187.6L798.2,186.4L796.4,185.2L794.6,184L792.7,182.9L790.8,181.9L788.9,180.8L787,179.8L785.1,178.8L783.1,177.9L781.2,177L779.2,176.1L777.2,175.2L775.2,174.3L773.2,173.5L771.2,172.7L769.2,171.9L767.2,171.1L765.1,170.3L763.1,169.5L761.1,168.8L759.1,168L757,167.3L755,166.6L753,165.8L750.9,165.1L748.9,164.3L746.9,163.6L744.8,162.8L742.8,162.1L740.8,161.3L738.7,160.6L736.7,159.9L734.6,159.1L732.5,158.4L730.4,157.7L728.4,157.1L726.3,156.4L724.2,155.8L722.1,155.1L719.9,154.5L717.8,153.9L715.7,153.3L713.6,152.7L711.4,152L709.3,151.4L707.2,150.8L705,150.1L702.8,149.5L700.7,148.9L698.5,148.3L696.3,147.8L694.1,147.3L691.9,146.8L689.6,146.4L687.4,145.9L685.2,145.5L682.9,145L680.7,144.6L678.4,144.3L676.2,144.1L673.9,144L671.6,144.1L669.4,144.2L669.2,141.2L671.5,141.1L673.8,141L676.1,141L678.4,140.9L680.7,140.9L683,140.9L685.3,140.9L687.5,141L689.8,141L692.1,141.1L694.4,141.3L696.7,141.4L699,141.6L701.3,141.7L703.6,141.9L705.8,142.2L708.1,142.4L710.4,142.7L712.7,143L714.9,143.3L717.2,143.6L719.5,144L721.7,144.4L724,144.8L726.2,145.2L728.5,145.7L730.7,146.1L732.9,146.6L735.2,147.1L737.4,147.7L739.6,148.2L741.8,148.8L744.1,149.4L746.3,150L748.5,150.7L750.7,151.3L752.8,152L755,152.7L757.2,153.5L759.4,154.2L761.5,155L763.7,155.8L765.8,156.6L767.9,157.4L770.1,158.3L772.2,159.1L774.3,160L776.4,161L778.5,161.9L780.6,162.8L782.6,163.8L784.7,164.8L786.7,165.8L788.8,166.9L790.8,167.9L792.8,169L794.9,170.1L796.9,171.2L798.8,172.4L800.8,173.5L802.8,174.7L804.7,175.9L806.7,177.1L808.6,178.3L810.5,179.6L812.4,180.9L814.3,182.1L816.2,183.5L818.1,184.8L819.9,186.1L821.8,187.5L823.6,188.9L825.4,190.3L827.2,191.7L829,193.1L830.8,194.6L832.5,196L834.3,197.5L836,199L837.7,200.5L839.4,202.1L841.1,203.6L842.8,205.2L844.5,206.8L846.1,208.4L847.7,210L849.3,211.6L850.9,213.3L852.5,214.9L854.1,216.6L855.6,218.3L857.1,220L858.6,221.7L860.1,223.5L861.6,225.2L863.1,227L864.5,228.8L865.9,230.6L867.3,232.4L868.7,234.2L870.1,236L871.4,237.9L872.8,239.7L874.1,241.6L875.4,243.5L876.7,245.4L877.9,247.3L879.2,249.2L880.4,251.2L881.6,253.1L882.8,255.1L883.9,257.1L885.1,259L886.2,261L887.3,263L888.4,265.1L889.5,267.1L890.5,269.1L891.6,271.2L892.6,273.2L893.6,275.3L894.5,277.4L895.5,279.5L896.4,281.6L897.3,283.7L898.2,285.8L899.1,287.9L899.9,290L900.7,292.2L901.5,294.3L902.3,296.5L903.1,298.6L903.8,300.8L904.5,303L905.2,305.1L905.9,307.3L906.6,309.5L907.2,311.7L907.8,313.9L908.4,316.2L909,318.4L909.5,320.6L910,322.8L910.5,325.1L911,327.3L911.5,329.5L911.9,331.8L912.3,334L912.7,336.3L913.1,338.6L913.4,340.8L913.8,343.1L914.1,345.4L914.4,347.6L914.6,349.9L914.8,352.2L915.1,354.5L915.3,356.8L915.4,359Z" fill="#64b2e0"/>
<path d="M701.7,606L705.7,605.4L709.8,604.8L713.8,604L717.9,603.2L721.9,602.3L725.8,601.4L729.8,600.3L733.7,599.3L737.7,598.1L741.5,596.9L745.4,595.6L749.2,594.2L753,592.7L756.8,591.2L760.5,589.6L764.2,587.9L767.9,586.2L771.6,584.5L775.2,582.8L778.9,581L782.5,579.2L786,577.3L789.5,575.3L793,573.3L796.5,571.3L799.9,569.1L803.3,567L806.7,564.8L810,562.5L813.3,560.2L816.6,557.8L819.9,555.5L823.1,553L826.3,550.6L829.5,548.1L832.6,545.5L835.7,542.9L838.7,540.3L841.7,537.5L844.7,534.8L847.6,532L850.5,529.1L853.4,526.2L856.2,523.3L859,520.3L861.7,517.3L864.4,514.2L867,511.1L869.5,507.9L872,504.6L874.4,501.3L876.7,497.9L879,494.5L881.2,491.1L883.4,487.6L885.4,484.1L887.5,480.5L889.4,476.9L891.3,473.2L894,474.5L892.2,478.3L890.4,482L888.5,485.7L886.5,489.3L884.4,493L882.3,496.5L880.1,500.1L877.9,503.6L875.6,507L873.2,510.5L870.8,513.9L868.3,517.2L865.7,520.5L863.1,523.7L860.5,526.9L857.7,530.1L855,533.2L852.1,536.2L849.3,539.2L846.3,542.2L843.3,545.1L840.3,547.9L837.2,550.7L834.1,553.5L830.9,556.1L827.7,558.8L824.4,561.3L821.1,563.8L817.7,566.3L814.3,568.7L810.8,571L807.4,573.3L803.8,575.5L800.2,577.6L796.6,579.7L793,581.7L789.3,583.6L785.6,585.5L781.9,587.3L778.1,589.1L774.3,590.8L770.4,592.4L766.6,593.9L762.7,595.4L758.8,596.8L754.8,598.1L750.9,599.4L746.9,600.6L742.9,601.7L738.8,602.8L734.8,603.8L730.7,604.7L726.7,605.5L722.6,606.3L718.5,607L714.3,607.6L710.2,608.1L706.1,608.6L701.9,609Z" fill="#6cb494"/>
</g>
</g>
<circle cx="681.5" cy="375.4" r="231.5" fill="none" stroke="#4f6f48" stroke-width="0.9" opacity="0.8"/>
<g fill="none" stroke="#16240c" stroke-width="1.35">
<path d="M758.4,367.9A77.3,77.3 0 0 0 604.6,367.9"/>
<path d="M605,386.4A77.3,77.3 0 0 0 758,386.4"/>
<path d="M810.3,367.9A129,129 0 0 0 552.7,367.9"/>
<path d="M553,386.4A129,129 0 0 0 810,386.4"/>
<path d="M861.8,367.9A180.5,180.5 0 0 0 501.2,367.9"/>
<path d="M501.3,386.4A180.5,180.5 0 0 0 861.7,386.4"/>
</g>
<circle cx="670" cy="377" r="151" fill="none" stroke="#d4ecb4" stroke-width="1.3" opacity="0.9"/>
<circle cx="670" cy="377" r="151" fill="none" stroke="#10200c" stroke-width="1.2" stroke-dasharray="18.98 18.98" stroke-dashoffset="10"/>
<line x1="681.5" y1="375.4" x2="604.4" y2="370.3" stroke="#1b2749" stroke-width="4.3"/>
<line x1="681.5" y1="375.4" x2="757.3" y2="360.3" stroke="#1b2749" stroke-width="4.3"/>
<line x1="681.5" y1="375.4" x2="676.2" y2="298.3" stroke="#42200f" stroke-width="4.3"/>
<line x1="681.5" y1="375.4" x2="676.2" y2="298.3" stroke="#a8503c" stroke-width="1.8"/>
<line x1="681.5" y1="375.4" x2="686.4" y2="452.5" stroke="#42200f" stroke-width="4.3"/>
<line x1="681.5" y1="375.4" x2="686.4" y2="452.5" stroke="#a8503c" stroke-width="1.8"/>
<line x1="737.4" y1="322.5" x2="775.2" y2="286.8" stroke="#42200f" stroke-width="4.3"/>
<line x1="737.4" y1="322.5" x2="775.2" y2="286.8" stroke="#a8503c" stroke-width="1.8"/>
<line x1="757.9" y1="385.2" x2="809.5" y2="391.8" stroke="#1b2749" stroke-width="4.3"/>
<line x1="605.9" y1="360.7" x2="554.9" y2="350.8" stroke="#1b2749" stroke-width="4.3"/>
<line x1="709.8" y1="447" x2="729" y2="495.3" stroke="#42200f" stroke-width="4.3"/>
<line x1="709.8" y1="447" x2="729" y2="495.3" stroke="#a8503c" stroke-width="1.8"/>
<line x1="605.9" y1="270.9" x2="575.7" y2="229.2" stroke="#1b2749" stroke-width="4.3"/>
<line x1="809.5" y1="359.2" x2="860.6" y2="352.8" stroke="#42200f" stroke-width="4.3"/>
<line x1="809.5" y1="359.2" x2="860.6" y2="352.8" stroke="#a8503c" stroke-width="1.8"/>
<line x1="619.4" y1="488.4" x2="594.5" y2="533.6" stroke="#42200f" stroke-width="4.3"/>
<line x1="619.4" y1="488.4" x2="594.5" y2="533.6" stroke="#a8503c" stroke-width="1.8"/>
<line x1="750.6" y1="484.3" x2="778.2" y2="527.8" stroke="#1b2749" stroke-width="4.3"/>
<circle cx="668" cy="395.7" r="2.9" fill="none" stroke="#1a1a10" stroke-width="1"/>
<path d="M666.4,376.3h6M669.4,373.3v6" stroke="#e8f0d8" stroke-width="1" opacity="0.8"/>
<g class="b" font-size="12.6" fill="#0c120c" text-anchor="middle">
<text x="603.9" y="380.6" textLength="6" lengthAdjust="spacingAndGlyphs">3</text>
<text x="759.1" y="380.6" textLength="6" lengthAdjust="spacingAndGlyphs">3</text>
<text x="552.2" y="380.6" textLength="6" lengthAdjust="spacingAndGlyphs">5</text>
<text x="810.8" y="380.6" textLength="6" lengthAdjust="spacingAndGlyphs">5</text>
<text x="500.7" y="380.6" textLength="6" lengthAdjust="spacingAndGlyphs">7</text>
<text x="862.3" y="380.6" textLength="6" lengthAdjust="spacingAndGlyphs">7</text>
</g>
<rect x="733.3" y="289.4" width="24.8" height="13.5" fill="#f3f2ef"/>
<rect x="666.6" y="330.4" width="24.8" height="13.5" fill="#f3f2ef"/>
<rect x="818.9" y="334.6" width="24.8" height="13.5" fill="#f3f2ef"/>
<rect x="630.2" y="365.9" width="24.8" height="13.5" fill="#f3f2ef"/>
<rect x="706.2" y="361.2" width="24.8" height="13.5" fill="#f3f2ef"/>
<rect x="771.9" y="367.9" width="24.8" height="13.5" fill="#f3f2ef"/>
<rect x="671.5" y="407.4" width="24.8" height="13.5" fill="#f3f2ef"/>
<rect x="565.9" y="362.6" width="24.8" height="13.5" fill="#f3f2ef"/>
<rect x="566.7" y="253.1" width="24.8" height="13.5" fill="#f3f2ef"/>
<rect x="718.5" y="458.9" width="24.8" height="13.5" fill="#f3f2ef"/>
<rect x="762.9" y="491.2" width="24.8" height="13.5" fill="#f3f2ef"/>
<rect x="607.5" y="510.5" width="24.8" height="13.5" fill="#f3f2ef"/>
<g class="b" font-size="12" text-anchor="middle">
<text x="745.7" y="300.4" fill="#c4474e">43.6</text>
<text x="679" y="341.4" fill="#c4474e">43.3</text>
<text x="831.3" y="345.6" fill="#c4474e">43.2</text>
<text x="642.6" y="376.9" fill="#32328c">42.9</text>
<text x="718.6" y="372.3" fill="#32328c">42.8</text>
<text x="784.3" y="379" fill="#32328c">43.3</text>
<text x="683.9" y="418.4" fill="#c4474e">43.5</text>
<text x="578.3" y="373.6" fill="#32328c">42.8</text>
<text x="579.1" y="264.2" fill="#32328c">42.2</text>
<text x="730.9" y="469.9" fill="#c4474e">43.4</text>
<text x="775.3" y="502.3" fill="#32328c">42.8</text>
<text x="619.9" y="521.5" fill="#c4474e">43.1</text>
</g>
<g stroke="#1a1a1a" stroke-width="1">
<line x1="910" y1="375.4" x2="915.5" y2="375.4"/>
<line x1="902.2" y1="316.3" x2="907.5" y2="314.8"/>
<line x1="879.4" y1="261.1" x2="884.1" y2="258.4"/>
<line x1="843.1" y1="213.8" x2="847" y2="209.9"/>
<line x1="795.8" y1="177.5" x2="798.5" y2="172.8"/>
<line x1="740.6" y1="154.7" x2="742.1" y2="149.4"/>
<line x1="681.5" y1="146.9" x2="681.5" y2="141.4"/>
<line x1="622.4" y1="154.7" x2="620.9" y2="149.4"/>
<line x1="567.2" y1="177.5" x2="564.5" y2="172.8"/>
<line x1="519.9" y1="213.8" x2="516" y2="209.9"/>
<line x1="483.6" y1="261.1" x2="478.9" y2="258.4"/>
<line x1="460.8" y1="316.3" x2="455.5" y2="314.8"/>
<line x1="453" y1="375.4" x2="447.5" y2="375.4"/>
<line x1="460.8" y1="434.5" x2="455.5" y2="436"/>
<line x1="483.6" y1="489.6" x2="478.9" y2="492.4"/>
<line x1="519.9" y1="537" x2="516" y2="540.9"/>
<line x1="567.2" y1="573.3" x2="564.5" y2="578"/>
<line x1="622.4" y1="596.1" x2="620.9" y2="601.4"/>
<line x1="681.5" y1="603.9" x2="681.5" y2="609.4"/>
<line x1="740.6" y1="596.1" x2="742.1" y2="601.4"/>
<line x1="795.8" y1="573.3" x2="798.5" y2="578"/>
<line x1="843.1" y1="537" x2="847" y2="540.9"/>
<line x1="879.4" y1="489.7" x2="884.1" y2="492.4"/>
<line x1="902.2" y1="434.5" x2="907.5" y2="436"/>
</g>
<g font-size="9.2" fill="#1e1e1e" stroke="#1e1e1e" stroke-width="0.3" text-anchor="middle" letter-spacing="1">
<g transform="translate(918.8,375.4) rotate(90)"><text x="-9.5" y="3.3">0</text><rect x="-5" y="-4.0" width="2.2" height="2.2" stroke="none"/></g>
<g transform="translate(887,256.8) rotate(60)"><text x="-5.8" y="3.3">30</text><rect x="1.7" y="-4.0" width="2.2" height="2.2" stroke="none"/></g>
<g transform="translate(800.2,169.9) rotate(30)"><text x="-5.8" y="3.3">60</text><rect x="1.7" y="-4.0" width="2.2" height="2.2" stroke="none"/></g>
<g transform="translate(681.5,138.1) rotate(0)"><text x="-6.6" y="3.3">90</text><rect x="0.9" y="-4.0" width="2.2" height="2.2" stroke="none"/></g>
<g transform="translate(562.9,169.9) rotate(-30)"><text x="-2.3" y="3.3">120</text><rect x="8.3" y="-4.0" width="2.2" height="2.2" stroke="none"/></g>
<g transform="translate(476,256.8) rotate(-60)"><text x="-2.1" y="3.3">150</text><rect x="8.5" y="-4.0" width="2.2" height="2.2" stroke="none"/></g>
<g transform="translate(444.2,375.4) rotate(90)"><text x="-6.8" y="3.3">180</text><rect x="3.8" y="-4.0" width="2.2" height="2.2" stroke="none"/></g>
<g transform="translate(473,495.8) rotate(60)"><text x="-5.9" y="3.3">210</text><rect x="4.7" y="-4.0" width="2.2" height="2.2" stroke="none"/></g>
<g transform="translate(561.1,583.9) rotate(30)"><text x="-6.9" y="3.3">240</text><rect x="3.7" y="-4.0" width="2.2" height="2.2" stroke="none"/></g>
<g transform="translate(681.5,616.2) rotate(0)"><text x="-6.7" y="3.3">270</text><rect x="3.9" y="-4.0" width="2.2" height="2.2" stroke="none"/></g>
<g transform="translate(801.9,583.9) rotate(-30)"><text x="-6" y="3.3">300</text><rect x="4.6" y="-4.0" width="2.2" height="2.2" stroke="none"/></g>
<g transform="translate(890,495.8) rotate(-60)"><text x="-6" y="3.3">330</text><rect x="4.6" y="-4.0" width="2.2" height="2.2" stroke="none"/></g>
</g>
<g stroke="#77736f" stroke-width="1" fill="none">
<line x1="430.7" y1="143.5" x2="430.7" y2="607"/>
<line x1="449.5" y1="625.6" x2="912.6" y2="625.6"/>
<line x1="425.6" y1="169.3" x2="430.7" y2="169.3"/>
<line x1="475.4" y1="625.6" x2="475.4" y2="631.2"/>
<line x1="425.6" y1="220.8" x2="430.7" y2="220.8"/>
<line x1="526.9" y1="625.6" x2="526.9" y2="631.2"/>
<line x1="425.6" y1="272.4" x2="430.7" y2="272.4"/>
<line x1="578.5" y1="625.6" x2="578.5" y2="631.2"/>
<line x1="425.6" y1="323.9" x2="430.7" y2="323.9"/>
<line x1="630" y1="625.6" x2="630" y2="631.2"/>
<line x1="425.6" y1="375.4" x2="430.7" y2="375.4"/>
<line x1="681.5" y1="625.6" x2="681.5" y2="631.2"/>
<line x1="425.6" y1="426.9" x2="430.7" y2="426.9"/>
<line x1="733" y1="625.6" x2="733" y2="631.2"/>
<line x1="425.6" y1="478.4" x2="430.7" y2="478.4"/>
<line x1="784.5" y1="625.6" x2="784.5" y2="631.2"/>
<line x1="425.6" y1="530" x2="430.7" y2="530"/>
<line x1="836.1" y1="625.6" x2="836.1" y2="631.2"/>
<line x1="425.6" y1="581.5" x2="430.7" y2="581.5"/>
<line x1="887.6" y1="625.6" x2="887.6" y2="631.2"/>
</g>
<g font-size="10.8" fill="#262626" stroke="#262626" stroke-width="0.15" text-anchor="middle">
<text x="421.3" y="173.3">8</text>
<text x="475.4" y="641.2">8</text>
<text x="421.3" y="224.8">6</text>
<text x="526.9" y="641.2">6</text>
<text x="421.3" y="276.4">4</text>
<text x="578.5" y="641.2">4</text>
<text x="421.3" y="327.9">2</text>
<text x="630" y="641.2">2</text>
<text x="421.3" y="379.4">0</text>
<text x="681.5" y="641.2">0</text>
<text x="421.3" y="430.9">2</text>
<text x="733" y="641.2">2</text>
<text x="421.3" y="482.4">4</text>
<text x="784.5" y="641.2">4</text>
<text x="421.3" y="534">6</text>
<text x="836.1" y="641.2">6</text>
<text x="421.3" y="585.5">8</text>
<text x="887.6" y="641.2">8</text>
</g>
<text x="452.6" y="616.8" font-size="17.4" fill="#000" stroke="#000" stroke-width="0.3">T</text>
<text x="902.5" y="616.9" font-size="16.8" fill="#000" stroke="#000" stroke-width="0.45" textLength="13.2" lengthAdjust="spacingAndGlyphs">N</text>
<text x="866.4" y="158.4" font-size="28.6" fill="#000" stroke="#000" stroke-width="0.5">OD</text>
<circle cx="458.7" cy="144.7" r="6.2" fill="#eceae6" stroke="#333" stroke-width="1.1"/>
<line x1="463.6" y1="149.4" x2="468.3" y2="153.8" stroke="#333" stroke-width="2"/>
<text x="451" y="160.9" font-size="10.6" fill="#1a1a1a" textLength="19" lengthAdjust="spacingAndGlyphs">9mm</text>
<rect x="956.4" y="10" width="1.2" height="640" fill="#f4f3f0"/>
<rect x="957.6" y="10" width="60" height="568.5" fill="#f3d9d2"/>
<rect x="957.6" y="9.4" width="35.4" height="18.7" fill="#d8bcb8"/>
<rect x="958" y="10.5" width="34.4" height="17.2" fill="#a86a62"/>
<rect x="993" y="9.4" width="1.4" height="18.7" fill="#d8bcb8"/>
<rect x="957.6" y="27.7" width="35.4" height="18.7" fill="#cfb4b1"/>
<rect x="958" y="28.8" width="34.4" height="17.2" fill="#955852"/>
<rect x="993" y="27.7" width="1.4" height="18.7" fill="#cfb4b1"/>
<rect x="957.6" y="46.1" width="35.4" height="18.7" fill="#c4a8a6"/>
<rect x="958" y="47.2" width="34.4" height="17.2" fill="#7c3e3a"/>
<rect x="993" y="46.1" width="1.4" height="18.7" fill="#c4a8a6"/>
<rect x="957.6" y="64.4" width="35.4" height="18.7" fill="#cba2a0"/>
<rect x="958" y="65.5" width="34.4" height="17.2" fill="#8c302c"/>
<rect x="993" y="64.4" width="1.4" height="18.7" fill="#cba2a0"/>
<rect x="957.6" y="82.8" width="35.4" height="18.7" fill="#d1a4a2"/>
<rect x="958" y="83.9" width="34.4" height="17.2" fill="#983430"/>
<rect x="993" y="82.8" width="1.4" height="18.7" fill="#d1a4a2"/>
<rect x="957.6" y="101.1" width="35.4" height="18.7" fill="#d9aea4"/>
<rect x="958" y="102.2" width="34.4" height="17.2" fill="#aa4a34"/>
<rect x="993" y="101.1" width="1.4" height="18.7" fill="#d9aea4"/>
<rect x="957.6" y="119.5" width="35.4" height="18.7" fill="#e3bca9"/>
<rect x="958" y="120.6" width="34.4" height="17.2" fill="#c1693f"/>
<rect x="993" y="119.5" width="1.4" height="18.7" fill="#e3bca9"/>
<rect x="957.6" y="137.8" width="35.4" height="18.7" fill="#e5c5a9"/>
<rect x="958" y="138.9" width="34.4" height="17.2" fill="#c57f3f"/>
<rect x="993" y="137.8" width="1.4" height="18.7" fill="#e5c5a9"/>
<rect x="957.6" y="156.2" width="35.4" height="18.7" fill="#e7cfaa"/>
<rect x="958" y="157.3" width="34.4" height="17.2" fill="#c99543"/>
<rect x="993" y="156.2" width="1.4" height="18.7" fill="#e7cfaa"/>
<rect x="957.6" y="174.5" width="35.4" height="18.7" fill="#e8d9b0"/>
<rect x="958" y="175.6" width="34.4" height="17.2" fill="#ccaa50"/>
<rect x="993" y="174.5" width="1.4" height="18.7" fill="#e8d9b0"/>
<rect x="957.6" y="192.9" width="35.4" height="18.7" fill="#e9e5b3"/>
<rect x="958" y="194" width="34.4" height="17.2" fill="#cfc557"/>
<rect x="993" y="192.9" width="1.4" height="18.7" fill="#e9e5b3"/>
<rect x="957.6" y="211.3" width="35.4" height="18.7" fill="#fbf3b9"/>
<rect x="958" y="212.4" width="34.4" height="17.2" fill="#f6e463"/>
<rect x="993" y="211.3" width="1.4" height="18.7" fill="#fbf3b9"/>
<rect x="957.6" y="229.6" width="35.4" height="18.7" fill="#fdf8bc"/>
<rect x="958" y="230.7" width="34.4" height="17.2" fill="#fbf06b"/>
<rect x="993" y="229.6" width="1.4" height="18.7" fill="#fdf8bc"/>
<rect x="957.6" y="248" width="35.4" height="18.7" fill="#d1e5b3"/>
<rect x="958" y="249.1" width="34.4" height="17.2" fill="#99c557"/>
<rect x="993" y="248" width="1.4" height="18.7" fill="#d1e5b3"/>
<rect x="957.6" y="266.3" width="35.4" height="18.7" fill="#c5dfb2"/>
<rect x="958" y="267.4" width="34.4" height="17.2" fill="#7fb755"/>
<rect x="993" y="266.3" width="1.4" height="18.7" fill="#c5dfb2"/>
<rect x="957.6" y="284.7" width="35.4" height="18.7" fill="#bad8b1"/>
<rect x="958" y="285.8" width="34.4" height="17.2" fill="#65a951"/>
<rect x="993" y="284.7" width="1.4" height="18.7" fill="#bad8b1"/>
<rect x="957.6" y="303" width="35.4" height="18.7" fill="#cce6ea"/>
<rect x="958" y="304.1" width="34.4" height="17.2" fill="#8ec8d0"/>
<rect x="993" y="303" width="1.4" height="18.7" fill="#cce6ea"/>
<rect x="957.6" y="321.4" width="35.4" height="18.7" fill="#bce0f2"/>
<rect x="958" y="322.5" width="34.4" height="17.2" fill="#69b9e1"/>
<rect x="993" y="321.4" width="1.4" height="18.7" fill="#bce0f2"/>
<rect x="957.6" y="339.7" width="35.4" height="18.7" fill="#b9d9ed"/>
<rect x="958" y="340.8" width="34.4" height="17.2" fill="#63abd7"/>
<rect x="993" y="339.7" width="1.4" height="18.7" fill="#b9d9ed"/>
<rect x="957.6" y="358.1" width="35.4" height="18.7" fill="#b5cce4"/>
<rect x="958" y="359.2" width="34.4" height="17.2" fill="#5b8dc3"/>
<rect x="993" y="358.1" width="1.4" height="18.7" fill="#b5cce4"/>
<rect x="957.6" y="376.5" width="35.4" height="18.7" fill="#aebddc"/>
<rect x="958" y="377.6" width="34.4" height="17.2" fill="#4b6db1"/>
<rect x="993" y="376.5" width="1.4" height="18.7" fill="#aebddc"/>
<rect x="957.6" y="394.8" width="35.4" height="18.7" fill="#abb8d8"/>
<rect x="958" y="395.9" width="34.4" height="17.2" fill="#4561a9"/>
<rect x="993" y="394.8" width="1.4" height="18.7" fill="#abb8d8"/>
<rect x="957.6" y="413.2" width="35.4" height="18.7" fill="#a7abd0"/>
<rect x="958" y="414.3" width="34.4" height="17.2" fill="#3b4597"/>
<rect x="993" y="413.2" width="1.4" height="18.7" fill="#a7abd0"/>
<rect x="957.6" y="431.5" width="35.4" height="18.7" fill="#a2a2cb"/>
<rect x="958" y="432.6" width="34.4" height="17.2" fill="#31318b"/>
<rect x="993" y="431.5" width="1.4" height="18.7" fill="#a2a2cb"/>
<rect x="957.6" y="449.9" width="35.4" height="18.7" fill="#a4a4cd"/>
<rect x="958" y="451" width="34.4" height="17.2" fill="#35358f"/>
<rect x="993" y="449.9" width="1.4" height="18.7" fill="#a4a4cd"/>
<rect x="957.6" y="468.2" width="35.4" height="18.7" fill="#a8a7ce"/>
<rect x="958" y="469.3" width="34.4" height="17.2" fill="#3d3b93"/>
<rect x="993" y="468.2" width="1.4" height="18.7" fill="#a8a7ce"/>
<rect x="957.6" y="486.6" width="35.4" height="18.7" fill="#aba5cd"/>
<rect x="958" y="487.7" width="34.4" height="17.2" fill="#45368f"/>
<rect x="993" y="486.6" width="1.4" height="18.7" fill="#aba5cd"/>
<rect x="957.6" y="504.9" width="35.4" height="18.7" fill="#b1a7ce"/>
<rect x="958" y="506" width="34.4" height="17.2" fill="#523b93"/>
<rect x="993" y="504.9" width="1.4" height="18.7" fill="#b1a7ce"/>
<rect x="957.6" y="523.3" width="35.4" height="18.7" fill="#b7aad1"/>
<rect x="958" y="524.4" width="34.4" height="17.2" fill="#5e4298"/>
<rect x="993" y="523.3" width="1.4" height="18.7" fill="#b7aad1"/>
<rect x="957.6" y="541.6" width="35.4" height="18.7" fill="#bcaed3"/>
<rect x="958" y="542.7" width="34.4" height="17.2" fill="#6a4a9d"/>
<rect x="993" y="541.6" width="1.4" height="18.7" fill="#bcaed3"/>
<rect x="957.6" y="560" width="35.4" height="18.7" fill="#c1b2d6"/>
<rect x="958" y="561.1" width="34.4" height="17.2" fill="#7653a3"/>
<rect x="993" y="560" width="1.4" height="18.7" fill="#c1b2d6"/>
<g font-size="10.4" text-anchor="middle">
<text x="974.4" y="21.5" fill="#1c0c0c" stroke="#1c0c0c" stroke-width="0.25" textLength="18.9" lengthAdjust="spacingAndGlyphs">90.0</text>
<text x="974.4" y="39.8" fill="#1c0c0c" stroke="#1c0c0c" stroke-width="0.25" textLength="18.9" lengthAdjust="spacingAndGlyphs">85.0</text>
<text x="974.4" y="58.2" fill="#fbe4e0" stroke="#fbe4e0" stroke-width="0.25" textLength="18.9" lengthAdjust="spacingAndGlyphs">80.0</text>
<text x="974.4" y="76.5" fill="#fbe4e0" stroke="#fbe4e0" stroke-width="0.25" textLength="18.9" lengthAdjust="spacingAndGlyphs">75.0</text>
<text x="974.4" y="94.9" fill="#fbe4e0" stroke="#fbe4e0" stroke-width="0.25" textLength="18.9" lengthAdjust="spacingAndGlyphs">70.0</text>
<text x="974.4" y="113.2" fill="#1c0c0c" stroke="#1c0c0c" stroke-width="0.25" textLength="18.9" lengthAdjust="spacingAndGlyphs">65.0</text>
<text x="974.4" y="131.6" fill="#1c0c0c" stroke="#1c0c0c" stroke-width="0.25" textLength="18.9" lengthAdjust="spacingAndGlyphs">60.0</text>
<text x="974.4" y="149.9" fill="#1c0c0c" stroke="#1c0c0c" stroke-width="0.25" textLength="18.9" lengthAdjust="spacingAndGlyphs">55.0</text>
<text x="974.4" y="168.3" fill="#1c0c0c" stroke="#1c0c0c" stroke-width="0.25" textLength="18.9" lengthAdjust="spacingAndGlyphs">50.0</text>
<text x="974.4" y="186.6" fill="#1c0c0c" stroke="#1c0c0c" stroke-width="0.25" textLength="18.9" lengthAdjust="spacingAndGlyphs">48.0</text>
<text x="974.4" y="205" fill="#1c0c0c" stroke="#1c0c0c" stroke-width="0.25" textLength="18.9" lengthAdjust="spacingAndGlyphs">46.0</text>
<text x="974.4" y="223.4" fill="#1c0c0c" stroke="#1c0c0c" stroke-width="0.25" textLength="18.9" lengthAdjust="spacingAndGlyphs">45.0</text>
<text x="974.4" y="241.7" fill="#1c0c0c" stroke="#1c0c0c" stroke-width="0.25" textLength="18.9" lengthAdjust="spacingAndGlyphs">44.0</text>
<text x="974.4" y="260.1" fill="#1c0c0c" stroke="#1c0c0c" stroke-width="0.25" textLength="18.9" lengthAdjust="spacingAndGlyphs">43.0</text>
<text x="974.4" y="278.4" fill="#1c0c0c" stroke="#1c0c0c" stroke-width="0.25" textLength="18.9" lengthAdjust="spacingAndGlyphs">42.0</text>
<text x="974.4" y="296.8" fill="#1c0c0c" stroke="#1c0c0c" stroke-width="0.25" textLength="18.9" lengthAdjust="spacingAndGlyphs">41.0</text>
<text x="974.4" y="315.1" fill="#1c0c0c" stroke="#1c0c0c" stroke-width="0.25" textLength="18.9" lengthAdjust="spacingAndGlyphs">40.0</text>
<text x="974.4" y="333.5" fill="#1c0c0c" stroke="#1c0c0c" stroke-width="0.25" textLength="18.9" lengthAdjust="spacingAndGlyphs">39.0</text>
<text x="974.4" y="351.8" fill="#1c0c0c" stroke="#1c0c0c" stroke-width="0.25" textLength="18.9" lengthAdjust="spacingAndGlyphs">38.0</text>
<text x="974.4" y="370.2" fill="#1c0c0c" stroke="#1c0c0c" stroke-width="0.25" textLength="18.9" lengthAdjust="spacingAndGlyphs">37.0</text>
<text x="974.4" y="388.6" fill="#1c0c0c" stroke="#1c0c0c" stroke-width="0.25" textLength="18.9" lengthAdjust="spacingAndGlyphs">36.0</text>
<text x="974.4" y="406.9" fill="#fbe4e0" stroke="#fbe4e0" stroke-width="0.25" textLength="18.9" lengthAdjust="spacingAndGlyphs">35.0</text>
<text x="974.4" y="425.3" fill="#fbe4e0" stroke="#fbe4e0" stroke-width="0.25" textLength="18.9" lengthAdjust="spacingAndGlyphs">34.0</text>
<text x="974.4" y="443.6" fill="#fbe4e0" stroke="#fbe4e0" stroke-width="0.25" textLength="18.9" lengthAdjust="spacingAndGlyphs">33.0</text>
<text x="974.4" y="462" fill="#fbe4e0" stroke="#fbe4e0" stroke-width="0.25" textLength="18.9" lengthAdjust="spacingAndGlyphs">32.0</text>
<text x="974.4" y="480.3" fill="#fbe4e0" stroke="#fbe4e0" stroke-width="0.25" textLength="18.9" lengthAdjust="spacingAndGlyphs">31.0</text>
<text x="974.4" y="498.7" fill="#fbe4e0" stroke="#fbe4e0" stroke-width="0.25" textLength="18.9" lengthAdjust="spacingAndGlyphs">30.0</text>
<text x="974.4" y="517" fill="#fbe4e0" stroke="#fbe4e0" stroke-width="0.25" textLength="18.9" lengthAdjust="spacingAndGlyphs">25.0</text>
<text x="974.4" y="535.4" fill="#fbe4e0" stroke="#fbe4e0" stroke-width="0.25" textLength="18.9" lengthAdjust="spacingAndGlyphs">20.0</text>
<text x="974.4" y="553.7" fill="#fbe4e0" stroke="#fbe4e0" stroke-width="0.25" textLength="18.9" lengthAdjust="spacingAndGlyphs">15.0</text>
<text x="974.4" y="572.1" fill="#fbe4e0" stroke="#fbe4e0" stroke-width="0.25" textLength="18.9" lengthAdjust="spacingAndGlyphs">10.0</text>
</g>
<rect x="994.4" y="9.6" width="20" height="4.6" fill="#a86a62"/>
<rect x="994.4" y="13.9" width="20" height="9.5" fill="#a86a62"/>
<rect x="994.4" y="23.1" width="20" height="9.5" fill="#9f615a"/>
<rect x="994.4" y="32.3" width="20" height="9.5" fill="#955852"/>
<rect x="994.4" y="41.4" width="20" height="9.5" fill="#894b46"/>
<rect x="994.4" y="50.6" width="20" height="9.5" fill="#7c3e3a"/>
<rect x="994.4" y="59.8" width="20" height="9.5" fill="#843733"/>
<rect x="994.4" y="69" width="20" height="9.5" fill="#8c302c"/>
<rect x="994.4" y="78.1" width="20" height="9.5" fill="#92322e"/>
<rect x="994.4" y="87.3" width="20" height="9.5" fill="#983430"/>
<rect x="994.4" y="96.5" width="20" height="9.5" fill="#a13f32"/>
<rect x="994.4" y="105.7" width="20" height="9.5" fill="#aa4a34"/>
<rect x="994.4" y="114.9" width="20" height="9.5" fill="#b55939"/>
<rect x="994.4" y="124" width="20" height="9.5" fill="#c1693f"/>
<rect x="994.4" y="133.2" width="20" height="9.5" fill="#c3743f"/>
<rect x="994.4" y="142.4" width="20" height="9.5" fill="#c57f3f"/>
<rect x="994.4" y="151.6" width="20" height="9.5" fill="#c78a41"/>
<rect x="994.4" y="160.7" width="20" height="9.5" fill="#c99543"/>
<rect x="994.4" y="169.9" width="20" height="9.5" fill="#ca9f49"/>
<rect x="994.4" y="179.1" width="20" height="9.5" fill="#ccaa50"/>
<rect x="994.4" y="188.3" width="20" height="9.5" fill="#cdb753"/>
<rect x="994.4" y="197.5" width="20" height="9.5" fill="#cfc557"/>
<rect x="994.4" y="206.6" width="20" height="9.5" fill="#e2d45d"/>
<rect x="994.4" y="215.8" width="20" height="9.5" fill="#f5e463"/>
<rect x="994.4" y="225" width="20" height="9.5" fill="#f8ea67"/>
<rect x="994.4" y="234.2" width="20" height="9.5" fill="#fbf06b"/>
<rect x="994.4" y="243.3" width="20" height="9.5" fill="#cbdb61"/>
<rect x="994.4" y="252.5" width="20" height="9.5" fill="#9ac657"/>
<rect x="994.4" y="261.7" width="20" height="9.5" fill="#8cbe56"/>
<rect x="994.4" y="270.9" width="20" height="9.5" fill="#7fb755"/>
<rect x="994.4" y="280" width="20" height="9.5" fill="#72b053"/>
<rect x="994.4" y="289.2" width="20" height="9.5" fill="#65a951"/>
<rect x="994.4" y="298.4" width="20" height="9.5" fill="#79b88f"/>
<rect x="994.4" y="307.6" width="20" height="9.5" fill="#8dc8ce"/>
<rect x="994.4" y="316.8" width="20" height="9.5" fill="#7cc1d8"/>
<rect x="994.4" y="325.9" width="20" height="9.5" fill="#69b9e1"/>
<rect x="994.4" y="335.1" width="20" height="9.5" fill="#66b2dc"/>
<rect x="994.4" y="344.3" width="20" height="9.5" fill="#63abd7"/>
<rect x="994.4" y="353.5" width="20" height="9.5" fill="#5f9ccd"/>
<rect x="994.4" y="362.6" width="20" height="9.5" fill="#5b8dc3"/>
<rect x="994.4" y="371.8" width="20" height="9.5" fill="#537dba"/>
<rect x="994.4" y="381" width="20" height="9.5" fill="#4b6db1"/>
<rect x="994.4" y="390.2" width="20" height="9.5" fill="#4867ad"/>
<rect x="994.4" y="399.4" width="20" height="9.5" fill="#4561a9"/>
<rect x="994.4" y="408.5" width="20" height="9.5" fill="#4053a0"/>
<rect x="994.4" y="417.7" width="20" height="9.5" fill="#3b4597"/>
<rect x="994.4" y="426.9" width="20" height="9.5" fill="#363b91"/>
<rect x="994.4" y="436.1" width="20" height="9.5" fill="#31318b"/>
<rect x="994.4" y="445.2" width="20" height="9.5" fill="#33338d"/>
<rect x="994.4" y="454.4" width="20" height="9.5" fill="#35358f"/>
<rect x="994.4" y="463.6" width="20" height="9.5" fill="#393891"/>
<rect x="994.4" y="472.8" width="20" height="9.5" fill="#3d3b93"/>
<rect x="994.4" y="482" width="20" height="9.5" fill="#413991"/>
<rect x="994.4" y="491.1" width="20" height="9.5" fill="#45368f"/>
<rect x="994.4" y="500.3" width="20" height="9.5" fill="#4b3891"/>
<rect x="994.4" y="509.5" width="20" height="9.5" fill="#523b93"/>
<rect x="994.4" y="518.7" width="20" height="9.5" fill="#583e95"/>
<rect x="994.4" y="527.8" width="20" height="9.5" fill="#5e4298"/>
<rect x="994.4" y="537" width="20" height="9.5" fill="#64469a"/>
<rect x="994.4" y="546.2" width="20" height="9.5" fill="#6a4a9d"/>
<rect x="994.4" y="555.4" width="20" height="9.5" fill="#704ea0"/>
<rect x="994.4" y="564.5" width="20" height="9.5" fill="#7653a3"/>
<rect x="994.4" y="573.7" width="20" height="1.6" fill="#7653a3"/>
<g stroke-width="1.3">
<line x1="994.6" y1="13.9" x2="1012.4" y2="13.9" stroke="#402825"/>
<line x1="994.6" y1="23.1" x2="1012.4" y2="23.1" stroke="#402825"/>
<line x1="994.6" y1="32.3" x2="1012.4" y2="32.3" stroke="#39211f"/>
<line x1="994.6" y1="41.4" x2="1012.4" y2="41.4" stroke="#39211f"/>
<line x1="994.6" y1="50.6" x2="1012.4" y2="50.6" stroke="#2f1816"/>
<line x1="994.6" y1="59.8" x2="1012.4" y2="59.8" stroke="#2f1816"/>
<line x1="994.6" y1="69" x2="1012.4" y2="69" stroke="#351211"/>
<line x1="994.6" y1="78.1" x2="1012.4" y2="78.1" stroke="#351211"/>
<line x1="994.6" y1="87.3" x2="1012.4" y2="87.3" stroke="#3a1412"/>
<line x1="994.6" y1="96.5" x2="1012.4" y2="96.5" stroke="#3a1412"/>
<line x1="994.6" y1="105.7" x2="1012.4" y2="105.7" stroke="#411c14"/>
<line x1="994.6" y1="114.9" x2="1012.4" y2="114.9" stroke="#411c14"/>
<line x1="994.6" y1="124" x2="1012.4" y2="124" stroke="#492818"/>
<line x1="994.6" y1="133.2" x2="1012.4" y2="133.2" stroke="#492818"/>
<line x1="994.6" y1="142.4" x2="1012.4" y2="142.4" stroke="#4b3018"/>
<line x1="994.6" y1="151.6" x2="1012.4" y2="151.6" stroke="#4b3018"/>
<line x1="994.6" y1="160.7" x2="1012.4" y2="160.7" stroke="#4c3919"/>
<line x1="994.6" y1="169.9" x2="1012.4" y2="169.9" stroke="#4c3919"/>
<line x1="994.6" y1="179.1" x2="1012.4" y2="179.1" stroke="#4e411e"/>
<line x1="994.6" y1="188.3" x2="1012.4" y2="188.3" stroke="#4e411e"/>
<line x1="994.6" y1="197.5" x2="1012.4" y2="197.5" stroke="#4f4b21"/>
<line x1="994.6" y1="206.6" x2="1012.4" y2="206.6" stroke="#4f4b21"/>
<line x1="994.6" y1="215.8" x2="1012.4" y2="215.8" stroke="#5d5726"/>
<line x1="994.6" y1="225" x2="1012.4" y2="225" stroke="#5d5726"/>
<line x1="994.6" y1="234.2" x2="1012.4" y2="234.2" stroke="#5f5b29"/>
<line x1="994.6" y1="243.3" x2="1012.4" y2="243.3" stroke="#5f5b29"/>
<line x1="994.6" y1="252.5" x2="1012.4" y2="252.5" stroke="#3a4b21"/>
<line x1="994.6" y1="261.7" x2="1012.4" y2="261.7" stroke="#3a4b21"/>
<line x1="994.6" y1="270.9" x2="1012.4" y2="270.9" stroke="#304620"/>
<line x1="994.6" y1="280" x2="1012.4" y2="280" stroke="#304620"/>
<line x1="994.6" y1="289.2" x2="1012.4" y2="289.2" stroke="#26401f"/>
<line x1="994.6" y1="298.4" x2="1012.4" y2="298.4" stroke="#26401f"/>
<line x1="994.6" y1="307.6" x2="1012.4" y2="307.6" stroke="#364c4f"/>
<line x1="994.6" y1="316.8" x2="1012.4" y2="316.8" stroke="#364c4f"/>
<line x1="994.6" y1="325.9" x2="1012.4" y2="325.9" stroke="#284656"/>
<line x1="994.6" y1="335.1" x2="1012.4" y2="335.1" stroke="#284656"/>
<line x1="994.6" y1="344.3" x2="1012.4" y2="344.3" stroke="#264152"/>
<line x1="994.6" y1="353.5" x2="1012.4" y2="353.5" stroke="#264152"/>
<line x1="994.6" y1="362.6" x2="1012.4" y2="362.6" stroke="#23364a"/>
<line x1="994.6" y1="371.8" x2="1012.4" y2="371.8" stroke="#23364a"/>
<line x1="994.6" y1="381" x2="1012.4" y2="381" stroke="#1c2943"/>
<line x1="994.6" y1="390.2" x2="1012.4" y2="390.2" stroke="#1c2943"/>
<line x1="994.6" y1="399.4" x2="1012.4" y2="399.4" stroke="#1a2540"/>
<line x1="994.6" y1="408.5" x2="1012.4" y2="408.5" stroke="#1a2540"/>
<line x1="994.6" y1="417.7" x2="1012.4" y2="417.7" stroke="#161a39"/>
<line x1="994.6" y1="426.9" x2="1012.4" y2="426.9" stroke="#161a39"/>
<line x1="994.6" y1="436.1" x2="1012.4" y2="436.1" stroke="#131335"/>
<line x1="994.6" y1="445.2" x2="1012.4" y2="445.2" stroke="#131335"/>
<line x1="994.6" y1="454.4" x2="1012.4" y2="454.4" stroke="#141436"/>
<line x1="994.6" y1="463.6" x2="1012.4" y2="463.6" stroke="#141436"/>
<line x1="994.6" y1="472.8" x2="1012.4" y2="472.8" stroke="#171638"/>
<line x1="994.6" y1="482" x2="1012.4" y2="482" stroke="#171638"/>
<line x1="994.6" y1="491.1" x2="1012.4" y2="491.1" stroke="#1a1536"/>
<line x1="994.6" y1="500.3" x2="1012.4" y2="500.3" stroke="#1a1536"/>
<line x1="994.6" y1="509.5" x2="1012.4" y2="509.5" stroke="#1f1638"/>
<line x1="994.6" y1="518.7" x2="1012.4" y2="518.7" stroke="#1f1638"/>
<line x1="994.6" y1="527.8" x2="1012.4" y2="527.8" stroke="#24193a"/>
<line x1="994.6" y1="537" x2="1012.4" y2="537" stroke="#24193a"/>
<line x1="994.6" y1="546.2" x2="1012.4" y2="546.2" stroke="#281c3c"/>
<line x1="994.6" y1="555.4" x2="1012.4" y2="555.4" stroke="#281c3c"/>
<line x1="994.6" y1="564.5" x2="1012.4" y2="564.5" stroke="#2d203e"/>
<line x1="994.6" y1="573.7" x2="1012.4" y2="573.7" stroke="#2d203e"/>
</g>
<rect x="993" y="574.3" width="30" height="5" fill="#ebe8e3"/>
<rect x="957.6" y="578.4" width="60" height="72" fill="#e6e2dd"/>
<rect x="957.6" y="601.5" width="60" height="1" fill="#9a9895"/>
<rect x="957.6" y="602.5" width="60" height="1" fill="#f6f5f3"/>
<rect x="957.6" y="625" width="60" height="1" fill="#9a9895"/>
<rect x="957.6" y="626" width="60" height="1" fill="#f6f5f3"/>
<g font-size="11.3" fill="#222" text-anchor="middle" lengthAdjust="spacingAndGlyphs">
<text x="985" y="594.2" textLength="7" lengthAdjust="spacingAndGlyphs">D</text><text x="985.6" y="617.6" textLength="41.4" lengthAdjust="spacingAndGlyphs">Curvature</text><text x="985.8" y="640.6" textLength="17" lengthAdjust="spacingAndGlyphs">Abs</text></g>
</g>
<rect x="13.2" y="10.8" width="1000.9" height="637.2" rx="9.5" fill="none" stroke="#7a7a7a" stroke-width="1.6"/>
</svg></body></html>
